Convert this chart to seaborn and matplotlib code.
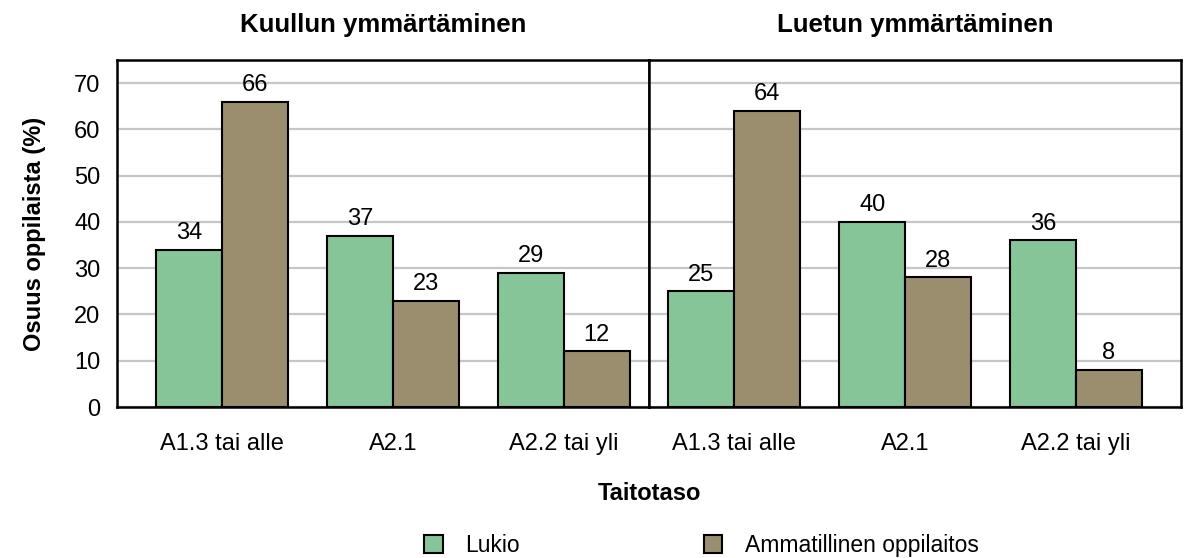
import pandas as pd
import seaborn as sns
import matplotlib.pyplot as plt
from matplotlib.patches import Patch

categories = ["A1.3 tai alle", "A2.1", "A2.2 tai yli"]
groups = ["Lukio", "Ammatillinen oppilaitos"]
kuullun_lukio = [34, 37, 29]
kuullun_amm = [66, 23, 12]
luetun_lukio = [25, 40, 36]
luetun_amm = [64, 28, 8]
titles = ["Kuullun ymmärtäminen", "Luetun ymmärtäminen"]
colors = ["#86c597", "#9b8e6e"]

sns.set_style("white")
plt.rcParams['font.family'] = ['Liberation Sans', 'DejaVu Sans']
plt.rcParams['font.size'] = 17
plt.rcParams['text.color'] = 'black'
plt.rcParams['axes.labelcolor'] = 'black'
plt.rcParams['xtick.color'] = 'black'
plt.rcParams['ytick.color'] = 'black'


def make_df(lukio, amm):
    rows = []
    for c, v in zip(categories, lukio):
        rows.append((c, groups[0], v))
    for c, v in zip(categories, amm):
        rows.append((c, groups[1], v))
    return pd.DataFrame(rows, columns=["taso", "ryhma", "osuus"])


panels = [make_df(kuullun_lukio, kuullun_amm), make_df(luetun_lukio, luetun_amm)]

fig, axs = plt.subplots(ncols=2, sharey=True, figsize=(11.89, 5.58), dpi=100)
plt.subplots_adjust(left=117/1189, right=1181/1189, bottom=1-407/558, top=1-60/558, wspace=0)

for i, ax in enumerate(axs):
    sns.barplot(data=panels[i], x="taso", y="osuus", hue="ryhma", hue_order=groups,
                order=categories, palette=colors, saturation=1, edgecolor="black",
                linewidth=1.5, width=0.773, ax=ax, legend=False, errorbar=None)
    for cont in ax.containers:
        ax.bar_label(cont, padding=4, fontsize=17, color="black")
    ax.set_ylim(0, 75)
    ax.set_yticks(range(0, 71, 10))
    ax.yaxis.grid(True, color="#c6c6c6", linewidth=1.6)
    ax.set_axisbelow(True)
    for s in ax.spines.values():
        s.set_color("black")
        s.set_linewidth(1.8)
    ax.tick_params(length=0, labelsize=17)
    ax.tick_params(axis='x', pad=19)
    ax.tick_params(axis='y', pad=12)
    ax.set_xlabel("")
    ax.set_ylabel("")
    ax.set_title(titles[i], fontweight="bold", fontsize=18.5, pad=20)

axs[0].set_xlim(-0.615, 2.5)
axs[1].set_xlim(-0.5, 2.615)
axs[0].set_ylabel("Osuus oppilaista (%)", fontweight="bold", fontsize=17, labelpad=20)

fig.text(649/1189, 1-493/558, "Taitotaso", ha="center", va="center",
         fontweight="bold", fontsize=17)

handles = [Patch(facecolor=colors[k], edgecolor="black", linewidth=1.5, label=groups[k])
           for k in range(2)]
fig.legend(handles=handles, loc="center", bbox_to_anchor=(0.59, 0.022), ncol=2,
           frameon=False, fontsize=16.5, handlelength=0.8, handleheight=0.8,
           columnspacing=8.0, handletextpad=1.0)

plt.savefig("out.png", dpi=100)
